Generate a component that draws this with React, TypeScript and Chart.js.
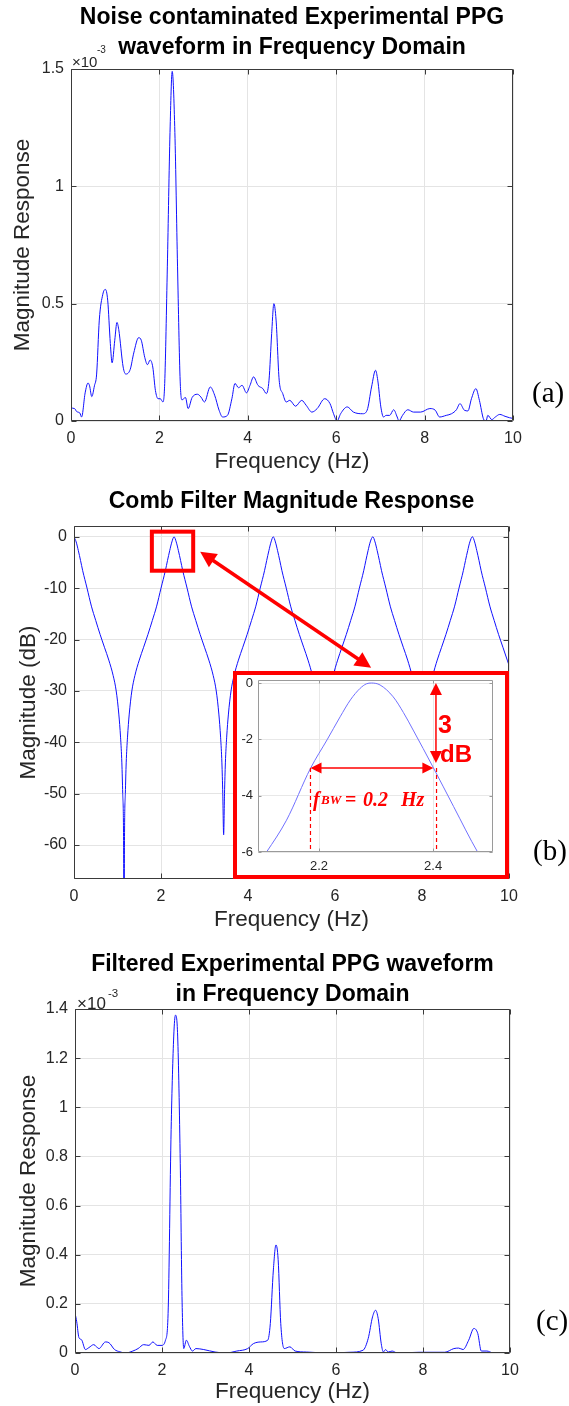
import React, { useEffect, useRef } from "react";
import { Chart, registerables } from "chart.js";

Chart.register(...registerables);

const SANS = '"Liberation Sans", Arial, Helvetica, sans-serif';
const SERIF = '"Liberation Serif", "Times New Roman", serif';

// ---------- (a) Noise contaminated spectrum (x 1e-3) ----------
const freqA = [0, 0.08, 0.13, 0.2, 0.24, 0.32, 0.385, 0.42, 0.47, 0.53, 0.58, 0.64, 0.72, 0.776, 0.83, 0.89, 0.93, 0.99, 1.04, 1.08, 1.18, 1.24, 1.34, 1.42, 1.53, 1.59, 1.67, 1.73, 1.79, 1.85, 1.91, 1.97, 2.02, 2.08, 2.12, 2.18, 2.24, 2.29, 2.35, 2.41, 2.47, 2.51, 2.59, 2.65, 2.74, 2.86, 2.94, 3.02, 3.15, 3.25, 3.35, 3.43, 3.54, 3.64, 3.71, 3.79, 3.87, 3.97, 4.05, 4.13, 4.23, 4.34, 4.42, 4.48, 4.54, 4.59, 4.64, 4.71, 4.79, 4.87, 4.95, 5.08, 5.22, 5.32, 5.45, 5.57, 5.74, 5.86, 5.94, 6.02, 6.1, 6.25, 6.39, 6.6, 6.7, 6.8, 6.89, 6.94, 7.01, 7.07, 7.13, 7.21, 7.3, 7.38, 7.42, 7.5, 7.62, 7.75, 7.91, 8.12, 8.24, 8.34, 8.49, 8.61, 8.72, 8.8, 8.9, 8.98, 9.06, 9.16, 9.24, 9.33, 9.39, 9.43, 9.52, 9.6, 9.7, 9.82, 9.92, 10];
const magA = [0.055, 0.053, 0.04, 0.034, 0.017, 0.12, 0.162, 0.15, 0.104, 0.15, 0.2, 0.43, 0.54, 0.561, 0.515, 0.33, 0.248, 0.344, 0.42, 0.39, 0.23, 0.2, 0.22, 0.29, 0.355, 0.344, 0.27, 0.24, 0.26, 0.23, 0.13, 0.095, 0.095, 0.081, 0.16, 0.66, 1.23, 1.49, 1.23, 0.66, 0.17, 0.09, 0.1, 0.053, 0.1, 0.114, 0.102, 0.081, 0.145, 0.11, 0.046, 0.017, 0.024, 0.095, 0.16, 0.142, 0.152, 0.12, 0.152, 0.188, 0.152, 0.138, 0.117, 0.174, 0.373, 0.5, 0.43, 0.174, 0.117, 0.081, 0.088, 0.063, 0.088, 0.067, 0.038, 0.053, 0.095, 0.074, 0.031, 0.0, 0.031, 0.06, 0.038, 0.031, 0.046, 0.145, 0.216, 0.174, 0.06, 0.017, 0.024, 0.024, 0.048, 0.017, 0, 0.024, 0.048, 0.038, 0.038, 0.053, 0.046, 0.017, 0.024, 0.031, 0.048, 0.074, 0.046, 0.043, 0.095, 0.138, 0.088, 0.01, 0, 0.024, 0.006, 0.017, 0.028, 0.02, 0.014, 0.011];

// ---------- (b) Comb filter magnitude response (dB) ----------
const freqB = [
  0, 0.05, 0.1, 0.15, 0.2, 0.3, 0.4, 0.5, 0.6, 0.7, 0.8, 0.9, 0.97, 1.03, 1.07, 1.1, 1.12, 1.14, 1.15, 1.16, 1.18, 1.2, 1.23, 1.27, 1.33, 1.4, 1.5, 1.6, 1.7, 1.8, 1.9, 2.0, 2.1, 2.15, 2.2, 2.25, 2.3,
  2.35, 2.4, 2.45, 2.5, 2.6, 2.7, 2.8, 2.9, 3.0, 3.1, 3.2, 3.27, 3.33, 3.37, 3.4, 3.42, 3.44, 3.46, 3.48, 3.51, 3.55, 3.61, 3.68, 3.78, 3.88, 3.98, 4.08, 4.18, 4.28, 4.38, 4.43, 4.48, 4.53, 4.58,
  4.63, 4.68, 4.73, 4.78, 4.88, 4.98, 5.08, 5.18, 5.28, 5.38, 5.48, 5.55, 5.61, 5.65, 5.68, 5.7, 5.72, 5.74, 5.76, 5.79, 5.83, 5.89, 5.96, 6.06, 6.16, 6.26, 6.36, 6.46, 6.56, 6.66, 6.71, 6.76, 6.81, 6.87,
  6.92, 6.97, 7.02, 7.07, 7.17, 7.27, 7.37, 7.47, 7.57, 7.67, 7.77, 7.84, 7.9, 7.94, 7.97, 7.99, 8.01, 8.03, 8.05, 8.08, 8.12, 8.18, 8.25, 8.35, 8.45, 8.55, 8.65, 8.75, 8.85, 8.95, 9.0, 9.05, 9.1, 9.16,
  9.21, 9.26, 9.31, 9.36, 9.46, 9.56, 9.66, 9.76, 9.86, 9.96, 10,
];
const magB = [
  0, -1, -2.7, -4.6, -6.6, -10, -13.5, -16.3, -19, -21.5, -24, -27, -30, -34.5, -39, -44, -50, -60, -90, -60, -50, -44, -39, -34.5, -30, -27, -24, -21.5, -19, -16.3, -13.5, -10, -6.6, -4.6, -2.7, -1, 0,
  -1, -2.7, -4.6, -6.6, -10, -13.5, -16.3, -19, -21.5, -24, -27, -30, -34.5, -39, -44, -50, -58, -50, -44, -39, -34.5, -30, -27, -24, -21.5, -19, -16.3, -13.5, -10, -6.6, -4.6, -2.7, -1, 0,
  -1, -2.7, -4.6, -6.6, -10, -13.5, -16.3, -19, -21.5, -24, -27, -30, -34.5, -39, -44, -50, -56, -50, -44, -39, -34.5, -30, -27, -24, -21.5, -19, -16.3, -13.5, -10, -6.6, -4.6, -2.7, -1, 0,
  -1, -2.7, -4.6, -6.6, -10, -13.5, -16.3, -19, -21.5, -24, -27, -30, -34.5, -39, -44, -50, -56, -50, -44, -39, -34.5, -30, -27, -24, -21.5, -19, -16.3, -13.5, -10, -6.6, -4.6, -2.7, -1, 0,
  -1, -2.7, -4.6, -6.6, -10, -13.5, -16.3, -19, -21.5, -24, -25,
];

// ---------- inset: zoom of the 2.3 Hz passband ----------
const freqInset = [2.08, 2.108, 2.143, 2.185, 2.214, 2.237, 2.255, 2.272, 2.283, 2.292, 2.307, 2.33, 2.348, 2.365, 2.4, 2.436, 2.478, 2.51];
const magInset = [-6.8, -6.0, -4.87, -3.03, -2.02, -1.2, -0.6, -0.19, -0.03, 0, -0.07, -0.49, -1.05, -1.67, -2.99, -4.39, -6.0, -7.0];

// ---------- (c) Filtered spectrum (x 1e-3) ----------
const freqC = [0, 0.04, 0.09, 0.15, 0.24, 0.32, 0.43, 0.55, 0.7, 0.78, 0.91, 1.03, 1.16, 1.33, 1.45, 1.58, 1.7, 1.79, 1.89, 2.0, 2.08, 2.14, 2.21, 2.27, 2.31, 2.36, 2.42, 2.46, 2.5, 2.56, 2.63, 2.7, 2.78, 2.96, 3.22, 3.47, 3.72, 3.97, 4.1, 4.27, 4.43, 4.49, 4.56, 4.62, 4.67, 4.73, 4.81, 4.94, 5.06, 5.32, 5.82, 6.32, 6.62, 6.74, 6.84, 6.91, 6.97, 7.04, 7.09, 7.14, 7.2, 7.29, 7.41, 7.92, 8.5, 8.71, 8.82, 8.92, 9.05, 9.17, 9.26, 9.34, 9.47, 9.6, 10];
const magC = [0.163, 0.127, 0.063, 0.054, 0.014, 0.022, 0.034, 0.018, 0.045, 0.042, 0.014, 0.005, 0, 0.008, 0.018, 0.034, 0.031, 0.045, 0.031, 0.031, 0.052, 0.16, 0.91, 1.29, 1.375, 1.29, 0.77, 0.23, 0.018, 0.052, 0.027, 0.008, 0.018, 0.014, 0.004, 0, 0.008, 0.018, 0.038, 0.045, 0.052, 0.12, 0.338, 0.44, 0.38, 0.12, 0.018, 0.025, 0.008, 0.004, 0, 0.003, 0.011, 0.059, 0.147, 0.174, 0.14, 0.038, 0.004, 0.014, 0.004, 0.008, 0, 0.003, 0.003, 0.018, 0.02, 0.014, 0.052, 0.1, 0.079, 0.008, 0.008, 0.001, 0];

// ---------- tick values ----------
const xTicks = [0, 2, 4, 6, 8, 10];
const yTicksA = [0, 0.5, 1, 1.5];
const yTicksB = [-60, -50, -40, -30, -20, -10, 0];
const yTicksC = [0, 0.2, 0.4, 0.6, 0.8, 1, 1.2, 1.4];
const xTicksInset = [2.2, 2.4];
const yTicksInset = [-6, -4, -2, 0];

// ---------- annotation anchors (data units) ----------
const zoomBoxB = { x0: 1.79, x1: 2.74, y0: 1.0, y1: -6.6 };
const arrowB = { x0: 2.9, y0: -2.9, x1: 6.83, y1: -25.5 };
const vArrowInset = { x: 2.405, y0: 0, y1: -2.84 };
const hArrowInset = { y: -3.02, x0: 2.185, x1: 2.4005 };
const dashInset = { xs: [2.185, 2.406], y0: -3.02, y1: -6 };

type Pt = { x: number; y: number };
const toPts = (xs: number[], ys: number[]): Pt[] => xs.map((x, i) => ({ x, y: ys[i] }));

const boxPlugin = {
  id: "mbox",
  afterDatasetsDraw(chart: any, _a: any, opts: any) {
    const { ctx, chartArea: a, scales } = chart;
    const L = Math.round(a.left) + 0.5, R = Math.round(a.right) - 0.5;
    const T = Math.round(a.top) + 0.5, B = Math.round(a.bottom) - 0.5;
    const len = opts.len ?? 5;
    ctx.save();
    ctx.strokeStyle = opts.color || "#262626";
    ctx.lineWidth = 1;
    ctx.beginPath();
    ctx.rect(L, T, R - L, B - T);
    scales.x.ticks.forEach((t: any) => {
      const p = Math.round(scales.x.getPixelForValue(t.value)) + 0.5;
      ctx.moveTo(p, B); ctx.lineTo(p, B - len);
      ctx.moveTo(p, T); ctx.lineTo(p, T + len);
    });
    scales.y.ticks.forEach((t: any) => {
      const p = Math.round(scales.y.getPixelForValue(t.value)) + 0.5;
      ctx.moveTo(L, p); ctx.lineTo(L + len, p);
      ctx.moveTo(R, p); ctx.lineTo(R - len, p);
    });
    ctx.stroke();
    ctx.restore();
  },
};

function head(ctx: any, fx: number, fy: number, tx: number, ty: number, len: number, half: number) {
  const ang = Math.atan2(ty - fy, tx - fx);
  const c = Math.cos(ang), s = Math.sin(ang);
  ctx.beginPath();
  ctx.moveTo(tx, ty);
  ctx.lineTo(tx - len * c + half * s, ty - len * s - half * c);
  ctx.lineTo(tx - len * c - half * s, ty - len * s + half * c);
  ctx.closePath();
  ctx.fill();
}

function doubleArrow(ctx: any, x1: number, y1: number, x2: number, y2: number, lw: number, len: number, half: number) {
  const ang = Math.atan2(y2 - y1, x2 - x1);
  const c = Math.cos(ang), s = Math.sin(ang);
  ctx.lineWidth = lw;
  ctx.beginPath();
  ctx.moveTo(x1 + len * 0.7 * c, y1 + len * 0.7 * s);
  ctx.lineTo(x2 - len * 0.7 * c, y2 - len * 0.7 * s);
  ctx.stroke();
  head(ctx, x1, y1, x2, y2, len, half);
  head(ctx, x2, y2, x1, y1, len, half);
}

const annotB = {
  id: "annotB",
  afterDraw(chart: any) {
    const { ctx, scales: { x, y } } = chart;
    ctx.save();
    ctx.strokeStyle = "#ff0000";
    ctx.fillStyle = "#ff0000";
    ctx.lineWidth = 4;
    const bx0 = x.getPixelForValue(zoomBoxB.x0), bx1 = x.getPixelForValue(zoomBoxB.x1);
    const by0 = y.getPixelForValue(zoomBoxB.y0), by1 = y.getPixelForValue(zoomBoxB.y1);
    ctx.strokeRect(bx0, by0, bx1 - bx0, by1 - by0);
    doubleArrow(ctx, x.getPixelForValue(arrowB.x0), y.getPixelForValue(arrowB.y0), x.getPixelForValue(arrowB.x1), y.getPixelForValue(arrowB.y1), 3.5, 16, 8);
    ctx.restore();
  },
};

const annotInset = {
  id: "annotInset",
  afterDraw(chart: any) {
    const { ctx, scales: { x, y } } = chart;
    ctx.save();
    ctx.strokeStyle = "#ff0000";
    ctx.fillStyle = "#ff0000";
    const vx = x.getPixelForValue(vArrowInset.x);
    doubleArrow(ctx, vx, y.getPixelForValue(vArrowInset.y0), vx, y.getPixelForValue(vArrowInset.y1), 1.5, 12, 6);
    const hy = y.getPixelForValue(hArrowInset.y);
    doubleArrow(ctx, x.getPixelForValue(hArrowInset.x0), hy, x.getPixelForValue(hArrowInset.x1), hy, 1.5, 11, 5.5);
    ctx.lineWidth = 1.2;
    ctx.setLineDash([4, 3]);
    ctx.beginPath();
    dashInset.xs.forEach((v) => {
      const px = x.getPixelForValue(v);
      ctx.moveTo(px, y.getPixelForValue(dashInset.y0));
      ctx.lineTo(px, y.getPixelForValue(dashInset.y1));
    });
    ctx.stroke();
    ctx.restore();
  },
};

interface Spec {
  pts: Pt[];
  lineColor: string;
  lineWidth: number;
  xRange: [number, number];
  yRange: [number, number];
  xTicks: number[];
  yTicks: number[];
  yAxisWidth: number;
  xAxisHeight: number;
  padding: { top: number; right: number; left: number; bottom: number };
  title?: { text: string[]; size: number; lineHeight: number; top: number; bottom: number };
  yTitle?: { text: string; size: number; pad: number };
  xTitle?: { text: string; size: number; pad: number };
  tickSize: number;
  xTickPad: number;
  yTickPad: number;
  gridColor: string;
  boxColor: string;
  tickLen: number;
  extra?: any[];
}

function createChart(canvas: HTMLCanvasElement, s: Spec) {
  const tickFont = { family: SANS, size: s.tickSize };
  return new Chart(canvas, {
    type: "line",
    data: {
      datasets: [
        {
          data: s.pts,
          borderColor: s.lineColor,
          borderWidth: s.lineWidth,
          pointRadius: 0,
          fill: false,
          cubicInterpolationMode: "monotone",
        },
      ],
    },
    options: {
      responsive: false,
      animation: false,
      events: [],
      layout: { padding: s.padding },
      plugins: {
        legend: { display: false },
        tooltip: { enabled: false },
        title: s.title
          ? {
              display: true,
              text: s.title.text,
              fullSize: false,
              color: "#000000",
              font: { family: SANS, size: s.title.size, weight: "bold", lineHeight: s.title.lineHeight },
              padding: { top: s.title.top, bottom: s.title.bottom },
            }
          : { display: false },
        mbox: { color: s.boxColor, len: s.tickLen },
      },
      scales: {
        x: {
          type: "linear",
          min: s.xRange[0],
          max: s.xRange[1],
          afterBuildTicks: (sc: any) => {
            sc.ticks = s.xTicks.map((v) => ({ value: v }));
          },
          afterFit: (sc: any) => {
            sc.height = s.xAxisHeight;
            sc.paddingLeft = 0;
            sc.paddingRight = 0;
          },
          grid: { color: s.gridColor, lineWidth: 1, drawTicks: false },
          border: { display: false },
          ticks: {
            autoSkip: false,
            maxRotation: 0,
            padding: s.xTickPad,
            color: "#262626",
            font: tickFont,
            callback: (v: any) => String(v),
          },
          title: s.xTitle
            ? {
                display: true,
                text: s.xTitle.text,
                color: "#262626",
                font: { family: SANS, size: s.xTitle.size, lineHeight: 1.2 },
                padding: { top: 0, bottom: s.xTitle.pad },
              }
            : { display: false },
        },
        y: {
          type: "linear",
          min: s.yRange[0],
          max: s.yRange[1],
          afterBuildTicks: (sc: any) => {
            sc.ticks = s.yTicks.map((v) => ({ value: v }));
          },
          afterFit: (sc: any) => {
            sc.width = s.yAxisWidth;
            sc.paddingTop = 0;
            sc.paddingBottom = 0;
          },
          grid: { color: s.gridColor, lineWidth: 1, drawTicks: false },
          border: { display: false },
          ticks: {
            autoSkip: false,
            padding: s.yTickPad,
            color: "#262626",
            font: tickFont,
            callback: (v: any) => String(v),
          },
          title: s.yTitle
            ? {
                display: true,
                text: s.yTitle.text,
                color: "#262626",
                font: { family: SANS, size: s.yTitle.size, lineHeight: 1.2 },
                padding: { top: s.yTitle.pad, bottom: 0 },
              }
            : { display: false },
        },
      },
    } as any,
    plugins: [boxPlugin, ...(s.extra || [])],
  } as any);
}

const GRID = "#e4e4e4";
const BOX = "#3a3a3a";
const BLUE = "#1010ff";

const specA: Spec = {
  pts: toPts(freqA, magA),
  lineColor: BLUE,
  lineWidth: 1,
  xRange: [0, 10],
  yRange: [0, 1.5],
  xTicks,
  yTicks: yTicksA,
  yAxisWidth: 71,
  xAxisHeight: 59,
  padding: { top: 0, right: 56, left: 0, bottom: 0 },
  title: { text: ["Noise contaminated Experimental PPG", "waveform in Frequency Domain"], size: 23, lineHeight: 1.27, top: 3.4, bottom: 7.2 },
  yTitle: { text: "Magnitude Response", size: 22.5, pad: 9.5 },
  xTitle: { text: "Frequency (Hz)", size: 22.5, pad: 4.5 },
  tickSize: 16,
  xTickPad: 8.4,
  yTickPad: 7,
  gridColor: GRID,
  boxColor: BOX,
  tickLen: 5,
};

const specB: Spec = {
  pts: toPts(freqB, magB),
  lineColor: BLUE,
  lineWidth: 1,
  xRange: [0, 10],
  yRange: [-66.6, 2.1],
  xTicks,
  yTicks: yTicksB,
  yAxisWidth: 74,
  xAxisHeight: 61,
  padding: { top: 0, right: 60, left: 0, bottom: 0 },
  title: { text: ["Comb Filter Magnitude Response"], size: 23, lineHeight: 1.27, top: 7.4, bottom: 9.4 },
  yTitle: { text: "Magnitude (dB)", size: 22.5, pad: 15.2 },
  xTitle: { text: "Frequency (Hz)", size: 22.5, pad: 6.5 },
  tickSize: 16,
  xTickPad: 8.4,
  yTickPad: 7,
  gridColor: GRID,
  boxColor: BOX,
  tickLen: 5,
  extra: [annotB],
};

const specC: Spec = {
  pts: toPts(freqC, magC),
  lineColor: BLUE,
  lineWidth: 1,
  xRange: [0, 10],
  yRange: [0, 1.4],
  xTicks,
  yTicks: yTicksC,
  yAxisWidth: 75,
  xAxisHeight: 53,
  padding: { top: 0, right: 59, left: 0, bottom: 0 },
  title: { text: ["Filtered Experimental PPG waveform", "in Frequency Domain"], size: 23, lineHeight: 1.27, top: 20.4, bottom: 0.2 },
  yTitle: { text: "Magnitude Response", size: 22.5, pad: 14.8 },
  xTitle: { text: "Frequency (Hz)", size: 22.5, pad: 0.5 },
  tickSize: 16,
  xTickPad: 8.4,
  yTickPad: 7,
  gridColor: GRID,
  boxColor: BOX,
  tickLen: 5,
};

const specInset: Spec = {
  pts: toPts(freqInset, magInset),
  lineColor: "#7070ff",
  lineWidth: 1,
  xRange: [2.093, 2.505],
  yRange: [-6, 0.107],
  xTicks: xTicksInset,
  yTicks: yTicksInset,
  yAxisWidth: 21,
  xAxisHeight: 23,
  padding: { top: 5, right: 12, left: 0, bottom: 0 },
  tickSize: 13,
  xTickPad: 6.2,
  yTickPad: 5,
  gridColor: "#e8e8e8",
  boxColor: "#9a9a9a",
  tickLen: 3,
  extra: [annotInset],
};

const abs = (left: number, top: number, extra: React.CSSProperties = {}): React.CSSProperties => ({
  position: "absolute",
  left,
  top,
  whiteSpace: "nowrap",
  ...extra,
});

export default function App() {
  const refA = useRef<HTMLCanvasElement>(null);
  const refB = useRef<HTMLCanvasElement>(null);
  const refC = useRef<HTMLCanvasElement>(null);
  const refI = useRef<HTMLCanvasElement>(null);

  useEffect(() => {
    const charts: Chart[] = [];
    if (refA.current) charts.push(createChart(refA.current, specA));
    if (refB.current) charts.push(createChart(refB.current, specB));
    if (refC.current) charts.push(createChart(refC.current, specC));
    if (refI.current) charts.push(createChart(refI.current, specInset));
    return () => charts.forEach((c) => c.destroy());
  }, []);

  const red = "#ff0000";
  const expMain = (size: number): React.CSSProperties => ({ font: `${size}px ${SANS}`, lineHeight: `${size}px`, color: "#262626" });
  const panel = { font: `29px ${SERIF}`, lineHeight: "30px", color: "#000" };
  const fbw = { font: `bold italic 20px ${SERIF}`, lineHeight: "20px", color: red };

  return (
    <div style={{ position: "absolute", left: 0, top: 0, width: 569, height: 1406, background: "#fff", overflow: "hidden" }}>
      <canvas ref={refA} width={569} height={480} style={abs(0, 0, { display: "block" })} />
      <canvas ref={refB} width={569} height={460} style={abs(0, 480, { display: "block" })} />
      <canvas ref={refC} width={569} height={476} style={abs(0, 930, { display: "block" })} />

      <div
        style={abs(233, 671, {
          width: 276,
          height: 208,
          border: `4px solid ${red}`,
          boxSizing: "border-box",
          background: "#fff",
        })}
      >
        <canvas ref={refI} width={268} height={200} style={{ display: "block" }} />
      </div>

      {/* exponent labels */}
      <span style={abs(72, 54.4, expMain(15))}>×10</span>
      <span style={abs(97, 45.1, expMain(10))}>-3</span>
      <span style={abs(77, 994.7, expMain(17))}>×10</span>
      <span style={abs(108, 988.4, expMain(11.5))}>-3</span>

      {/* panel letters */}
      <span style={abs(532, 377, panel)}>(a)</span>
      <span style={abs(533, 835, panel)}>(b)</span>
      <span style={abs(536, 1305, panel)}>(c)</span>

      {/* inset annotations */}
      <span style={abs(438, 711.8, { font: `bold 25px ${SANS}`, lineHeight: "25px", color: red })}>3</span>
      <span style={abs(440, 741.8, { font: `bold 24px ${SANS}`, lineHeight: "24px", color: red })}>dB</span>
      <span style={abs(313, 788.5, fbw)}>f</span>
      <span style={abs(321, 793.4, { font: `bold italic 13px ${SERIF}`, lineHeight: "13px", color: red })}>BW</span>
      <span style={abs(345, 788.5, { ...fbw, fontStyle: "normal" })}>=</span>
      <span style={abs(363, 788.5, fbw)}>0.2</span>
      <span style={abs(401, 788.5, fbw)}>Hz</span>
    </div>
  );
}
